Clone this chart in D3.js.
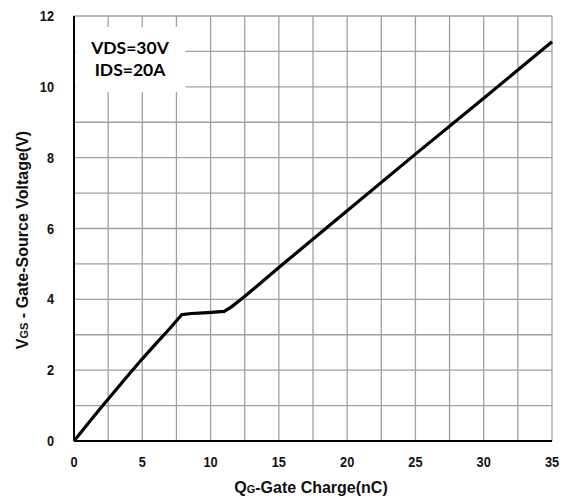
<!DOCTYPE html>
<html lang="en">
<head>
    <meta charset="UTF-8">
    <title>Gate Charge</title>
    <style>
        body {
            margin: 0;
            padding: 0;
            background: #fff;
            overflow: hidden;
        }
        .tick-label {
            font-family: 'Liberation Sans', Arial, sans-serif;
            font-weight: bold;
            font-size: 14.5px;
            fill: #111;
        }
        .axis-title {
            font-family: 'Liberation Sans', Arial, sans-serif;
            font-weight: bold;
            font-size: 16px;
            fill: #111;
        }
        .note {
            font-family: Lato, 'Open Sans', sans-serif;
            font-weight: bold;
            font-size: 17.5px;
            fill: #000;
        }
    </style>
</head>
<body>
    <svg id="chart"></svg>

    <script src="https://d3js.org/d3.v7.min.js"></script>
    <script>
        // gate charge curve (nC vs V)
        const charge = [0, 1, 2, 3, 4, 5, 6, 7, 7.9, 8.6, 9.5, 10.3, 11.0, 11.5, 12.4, 15, 20, 25, 30, 35];
        const vgs = [0, 0.48, 0.95, 1.41, 1.87, 2.32, 2.75, 3.17, 3.57, 3.6, 3.62, 3.64, 3.66, 3.78, 4.05, 4.9, 6.5, 8.1, 9.68, 11.27];

        const xTicks = [0, 5, 10, 15, 20, 25, 30, 35];
        const yTicks = [0, 2, 4, 6, 8, 10, 12];
        const xGrid = d3.range(2.5, 35.01, 2.5);
        const yGrid = d3.range(1, 12.01, 1);
        const noteLines = ["VDS=30V", "IDS=20A"];

        const W = 568, H = 501;
        const margin = {top: 16, right: 16, bottom: 60, left: 74};
        const width = W - margin.left - margin.right;
        const height = H - margin.top - margin.bottom;

        const svg = d3.select("#chart")
            .attr("width", W)
            .attr("height", H);

        const g = svg.append("g")
            .attr("transform", `translate(${margin.left},${margin.top})`);

        const x = d3.scaleLinear().domain([0, 35]).range([0, width]);
        const y = d3.scaleLinear().domain([0, 12]).range([height, 0]);

        // grid
        g.selectAll(".vgrid")
            .data(xGrid)
          .enter().append("line")
            .attr("x1", d => x(d)).attr("x2", d => x(d))
            .attr("y1", 0).attr("y2", height)
            .attr("stroke", "#a0a0a0")
            .attr("stroke-width", 1.3);

        g.selectAll(".hgrid")
            .data(yGrid)
          .enter().append("line")
            .attr("x1", 0).attr("x2", width)
            .attr("y1", d => y(d)).attr("y2", d => y(d))
            .attr("stroke", "#a0a0a0")
            .attr("stroke-width", 1.3);

        // note box (covers grid)
        g.append("rect")
            .attr("x", 1.5)
            .attr("y", 11)
            .attr("width", 110)
            .attr("height", 65)
            .attr("fill", "#fff");

        g.selectAll(".note")
            .data(noteLines)
          .enter().append("text")
            .attr("class", "note")
            .attr("x", 56)
            .attr("y", (d, i) => 38 + i * 21.5)
            .attr("text-anchor", "middle")
            .text(d => d);

        // axes lines
        g.append("line")
            .attr("x1", 0).attr("x2", 0)
            .attr("y1", 0).attr("y2", height)
            .attr("stroke", "#000").attr("stroke-width", 2);
        g.append("line")
            .attr("x1", 0).attr("x2", width)
            .attr("y1", height).attr("y2", height)
            .attr("stroke", "#000").attr("stroke-width", 2);

        // tick labels (slightly condensed like the original)
        g.selectAll(".xtick")
            .data(xTicks)
          .enter().append("text")
            .attr("class", "tick-label")
            .attr("transform", d => `translate(${x(d)},${height + 26}) scale(0.88,1)`)
            .attr("text-anchor", "middle")
            .text(d => d);

        g.selectAll(".ytick")
            .data(yTicks)
          .enter().append("text")
            .attr("class", "tick-label")
            .attr("transform", d => `translate(-20,${y(d) + 5}) scale(0.88,1)`)
            .attr("text-anchor", "end")
            .text(d => d);

        // axis titles
        const xt = g.append("text")
            .attr("class", "axis-title")
            .attr("x", width / 2 - 2)
            .attr("y", height + 52)
            .attr("text-anchor", "middle");
        xt.append("tspan").text("Q");
        xt.append("tspan").style("font-size", "11px").text("G");
        xt.append("tspan").text("-Gate Charge(nC)");

        const yt = svg.append("text")
            .attr("class", "axis-title")
            .attr("transform", "translate(28,240) rotate(-90)")
            .attr("text-anchor", "middle");
        yt.append("tspan").text("V");
        yt.append("tspan").style("font-size", "11px").text("GS");
        yt.append("tspan").text(" - Gate-Source Voltage(V)");

        // curve
        const pts = charge.map((c, i) => [c, vgs[i]]);
        const line = d3.line()
            .x(d => x(d[0]))
            .y(d => y(d[1]));

        g.append("path")
            .datum(pts)
            .attr("d", line)
            .attr("fill", "none")
            .attr("stroke", "#000")
            .attr("stroke-width", 3.2)
            .attr("stroke-linejoin", "round");
    </script>
</body>
</html>
